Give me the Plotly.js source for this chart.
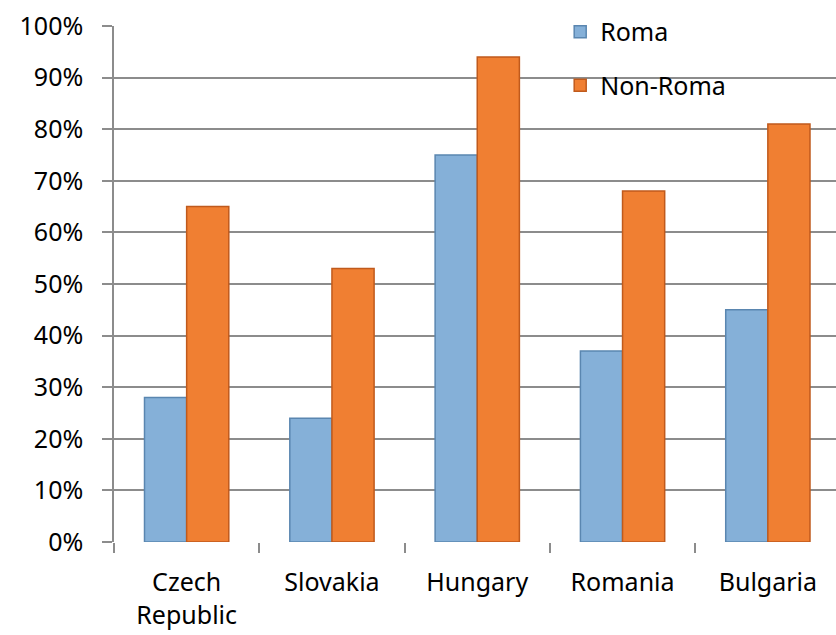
<!DOCTYPE html>
<html>
<head>
<meta charset="utf-8">
<script src="https://cdn.plot.ly/plotly-3.0.1.min.js"></script>
<style>html,body{margin:0;padding:0;background:#fff}</style>
</head>
<body>
<div id="chart" style="width:836px;height:635px"></div>
<script>
const categories = ["Czech<br>Republic", "Slovakia", "Hungary", "Romania", "Bulgaria"];
const roma = [0.28, 0.24, 0.75, 0.37, 0.45];
const nonRoma = [0.65, 0.53, 0.94, 0.68, 0.81];
const yTicks = [0, 0.1, 0.2, 0.3, 0.4, 0.5, 0.6, 0.7, 0.8, 0.9, 1.0];
const yTickText = ["0%", "10%", "20%", "30%", "40%", "50%", "60%", "70%", "80%", "90%", "100%"];

const font = "Noto Sans, Open Sans, sans-serif";
const traces = [
  {type: "bar", name: "Roma", x: categories, y: roma, legendgroup: "a",
   marker: {color: "#85B0D8", line: {color: "#5A86B0", width: 1.5}}},
  {type: "bar", name: "Non-Roma", x: categories, y: nonRoma, legendgroup: "b",
   marker: {color: "#F07F32", line: {color: "#C05A1C", width: 1.5}}}
];
const layout = {
  width: 836, height: 635,
  margin: {l: 114, r: 0, t: 26, b: 93},
  paper_bgcolor: "#fff", plot_bgcolor: "#fff",
  bargap: 0.42, bargroupgap: 0,
  barmode: "group",
  font: {family: font, size: 25, color: "#000"},
  showlegend: true,
  legend: {x: 0.618, y: 1.033, xanchor: "left", yanchor: "top",
           bgcolor: "rgba(0,0,0,0)", font: {size: 25, family: font},
           traceorder: "grouped", tracegroupgap: 18, itemwidth: 30},
  xaxis: {type: "category", range: [-0.5, 4.469], tickson: "boundaries",
          ticks: "outside", ticklen: 10, tickcolor: "#8c8c8c", tickwidth: 1.5,
          showline: false, showgrid: false, zeroline: false,
          ticklabelstandoff: 23,
          tickfont: {size: 25, family: font}},
  yaxis: {range: [0, 1.0], tickvals: yTicks, ticktext: yTickText,
          showgrid: true, gridcolor: "#8c8c8c", gridwidth: 1.5,
          showline: true, linecolor: "#8c8c8c", linewidth: 1.5,
          ticks: "outside", ticklen: 10, tickcolor: "#8c8c8c", tickwidth: 1.5,
          ticklabelstandoff: 14,
          zeroline: false, tickfont: {size: 25, family: font}}
};
Plotly.newPlot("chart", traces, layout, {displayModeBar: false});
</script>
</body>
</html>
